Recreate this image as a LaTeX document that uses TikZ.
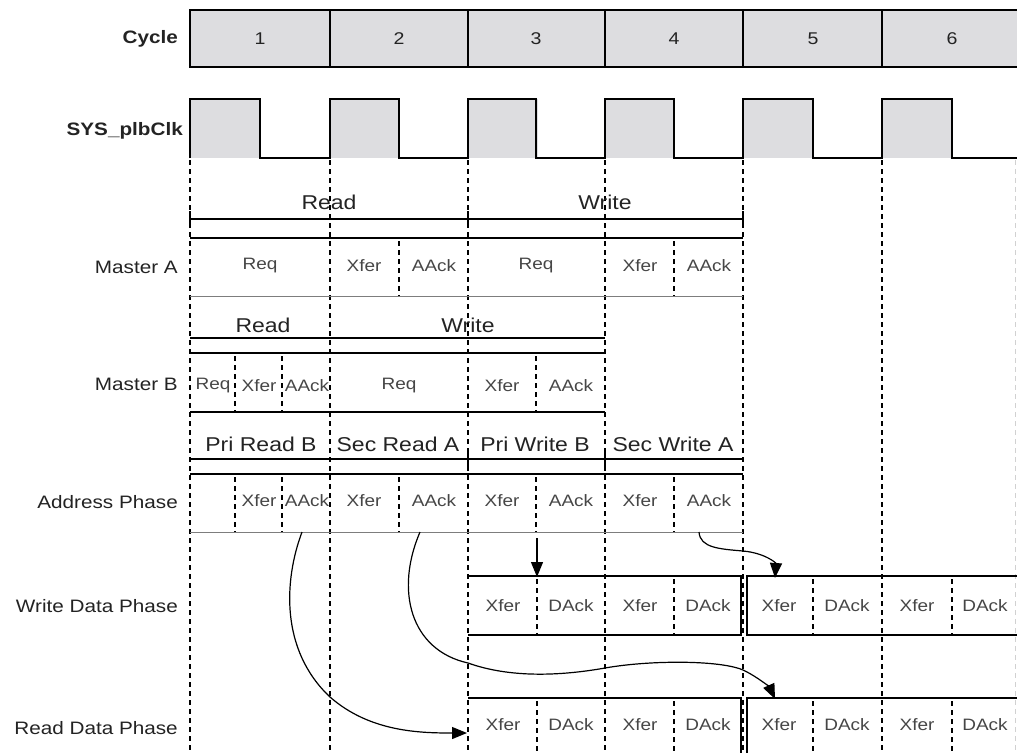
\documentclass[tikz,border=0pt]{standalone}
\usepackage{fontspec}
\setmainfont{Liberation Sans}[FakeStretch=1.15]
\usetikzlibrary{arrows.meta}
\definecolor{cyc}{RGB}{221,221,224}
\definecolor{lbl}{RGB}{35,35,35}
\definecolor{celltxt}{RGB}{70,70,70}
\definecolor{thinln}{RGB}{125,125,125}
\begin{document}
\begin{tikzpicture}[x=1pt,y=-1pt,
  solid line/.style={line width=1.6pt,black},
  thin line/.style={line width=1pt,thinln},
  dline/.style={line width=1.3pt,black,dash pattern=on 5pt off 4pt},
  lab/.style={anchor=east,inner sep=0pt,text=lbl,font=\fontsize{18}{20}\selectfont},
  blab/.style={anchor=east,inner sep=0pt,text=lbl,font=\bfseries\fontsize{18}{20}\selectfont},
  hdr/.style={inner sep=0pt,text=lbl,font=\fontsize{20}{22}\selectfont},
  celltext/.style={inner sep=0pt,text=celltxt,font=\fontsize{16.5}{18}\selectfont},
  numtext/.style={inner sep=0pt,text=lbl,font=\fontsize{17}{19}\selectfont},
  arr/.style={line width=1.2pt,black,-{Triangle[length=15pt,width=12pt]}}]
\useasboundingbox (0,0) rectangle (1017,753);

% ---------- Cycle row ----------
\fill[cyc] (190,10) rectangle (1017,67);
\draw[solid line] (1017,10) -- (190,10) -- (190,67) -- (1017,67);
\foreach \x in {330,468,605,743,882} \draw[solid line] (\x,10) -- (\x,67);
\foreach \x/\n [count=\i] in {260/1,399/2,536/3,674/4,813/5,952/6}
  \node[numtext] (c\i) at (\x,39) {\n};
\node[blab] (cyclelab) at (178,39) {Cycle};

% ---------- Clock ----------
\foreach \x in {190,330,468,605,743,882} \fill[cyc] (\x,99) rectangle ++(70,59);
\draw[solid line] (190,158) -- (190,99) -- (260,99) -- (260,158) -- (330,158)
  -- (330,99) -- (399,99) -- (399,158) -- (468,158) -- (468,99) -- (536,99)
  -- (536,158) -- (605,158) -- (605,99) -- (674,99) -- (674,158) -- (743,158)
  -- (743,99) -- (813,99) -- (813,158) -- (882,158) -- (882,99) -- (952,99)
  -- (952,158) -- (1017,158);
\node[blab] (clklab) at (183,131) {SYS\_plbClk};

% ---------- cycle dashed lines ----------
\foreach \x in {190,330,468,605,743,882} \draw[dline] (\x,160) -- (\x,753);
\draw[line width=0.8pt,black!18,dash pattern=on 5pt off 4pt] (1015,160) -- (1015,753);

% ---------- Master A ----------
\node[hdr] (ra) at (329,202) {Read};
\node[hdr] (wa) at (605,202) {Write};
\draw[solid line] (190,219) -- (743,219);
\foreach \x in {190,468,743} \draw[solid line] (\x,211) -- (\x,227);
\draw[solid line] (190,238) -- (743,238);
\draw[thin line] (190,296) -- (743,296);
\foreach \x in {399,674} \draw[dline] (\x,241) -- (\x,296);
\node[lab] (mAlab) at (178,267) {Master A};
\foreach \x/\t [count=\i] in {260/Req,364/Xfer,434/AAck,536/Req,640/Xfer,709/AAck}
  \node[celltext] (ma\i) at (\x,266) {\t};

% ---------- Master B ----------
\node[hdr] (rb) at (263,325) {Read};
\node[hdr] (wb) at (468,325) {Write};
\draw[solid line] (190,338) -- (605,338);
\draw[solid line] (190,353) -- (605,353);
\draw[solid line] (190,412) -- (605,412);
\foreach \x in {235,282,536} \draw[dline] (\x,356) -- (\x,412);
\node[lab] (mBlab) at (178,384) {Master B};
\foreach \x/\t [count=\i] in {213/Req,259/Xfer,307/AAck,399/Req,502/Xfer,571/AAck}
  \node[celltext] (mb\i) at (\x,386) {\t};

% ---------- Address Phase ----------
\node[hdr] (h1) at (261,444) {Pri Read B};
\node[hdr] (h2) at (398,444) {Sec Read A};
\node[hdr] (h3) at (535,444) {Pri Write B};
\node[hdr] (h4) at (673,444) {Sec Write A};
\draw[solid line] (190,459) -- (743,459);
\foreach \x in {468,605} \draw[solid line] (\x,452) -- (\x,467);
\draw[solid line] (190,474) -- (743,474);
\draw[thin line] (190,532) -- (743,532);
\foreach \x in {235,282,399,536,674} \draw[dline] (\x,477) -- (\x,532);
\node[lab] (adlab) at (178,502) {Address Phase};
\foreach \x/\t [count=\i] in {259/Xfer,307/AAck,364/Xfer,434/AAck,502/Xfer,571/AAck,640/Xfer,709/AAck}
  \node[celltext] (ad\i) at (\x,501) {\t};

% ---------- Write Data Phase ----------
\draw[solid line] (468,576) -- (741,576) -- (741,635) -- (468,635);
\draw[solid line] (1017,576) -- (747,576) -- (747,635) -- (1017,635);
\foreach \x in {537,674,813,952} \draw[dline] (\x,579) -- (\x,635);
\node[lab] (wdlab) at (178,606) {Write Data Phase};
\foreach \x/\t [count=\i] in {503/Xfer,571/DAck,640/Xfer,708/DAck,779/Xfer,847/DAck,917/Xfer,985/DAck}
  \node[celltext] (wd\i) at (\x,606) {\t};

% ---------- Read Data Phase ----------
\draw[solid line] (468,698) -- (741,698) -- (741,753);
\draw[solid line] (1017,698) -- (747,698) -- (747,753);
\foreach \x in {537,674,813,952} \draw[dline] (\x,701) -- (\x,753);
\node[lab] (rdlab) at (178,728) {Read Data Phase};
\foreach \x/\t [count=\i] in {503/Xfer,571/DAck,640/Xfer,708/DAck,779/Xfer,847/DAck,917/Xfer,985/DAck}
  \node[celltext] (rd\i) at (\x,725) {\t};

% ---------- Arrows ----------
\coordinate (s1) at (537,538);  \coordinate (e1) at (537,577);
\coordinate (s2) at (699,532);  \coordinate (m2) at (743,551); \coordinate (e2) at (775,578);
\coordinate (s3) at (302,532);  \coordinate (m3) at (330,697); \coordinate (e3) at (467,733);
\coordinate (s4) at (420,532);  \coordinate (m4) at (468,663); \coordinate (e4) at (775,699);
\draw[arr] (s1) -- (e1);
\draw[arr] (s2) .. controls (700,548) and (720,549) .. (m2)
  .. controls (765,553) and (776,563) .. (e2);
\draw[arr] (s3) .. controls (284,580) and (280,650) .. (m3)
  .. controls (370,732) and (420,733) .. (e3);
\draw[arr] (s4) .. controls (395,590) and (410,650) .. (m4)
  .. controls (510,678) and (560,676) .. (605,668)
  .. controls (650,660) and (720,660) .. (743,670)
  .. controls (758,677) and (770,688) .. (e4);
\end{tikzpicture}
\end{document}
